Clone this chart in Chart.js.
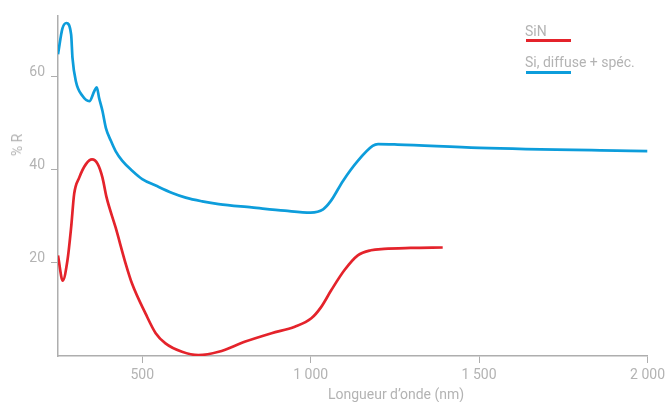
<!DOCTYPE html>
<html>
<head>
<meta charset="utf-8">
<script src="https://cdn.jsdelivr.net/npm/chart.js@4"></script>
<style>
  body { margin: 0; background: #fff; }
  #wrap { position: relative; width: 669px; height: 402px; font-family: Roboto, sans-serif; color: #b3b3b3; }
  .lbl { position: absolute; white-space: nowrap; font-size: 14px; line-height: 1; }
  .swatch { position: absolute; height: 3px; width: 45px; }
</style>
</head>
<body>
<div id="wrap">
  <canvas id="chart" width="669" height="402"></canvas>
  <div class="lbl" style="left:525px; top:24px;">SiN</div>
  <div class="swatch" style="left:526px; top:39px; background:#e4232b;"></div>
  <div class="lbl" style="left:525px; top:55px;">Si, diffuse + spéc.</div>
  <div class="swatch" style="left:526px; top:71px; background:#0d9ddb;"></div>
  <div class="lbl" style="left:396px; top:387px; transform:translateX(-50%);">Longueur d’onde (nm)</div>
  <div class="lbl" style="left:17px; top:145px; transform:translate(-50%,-50%) rotate(-90deg);">% R</div>
</div>
<script>
// Reflectance curves
const sinWavelength = [250, 264, 278, 289, 298, 313, 333, 351, 368, 382, 394, 421, 451, 470, 510, 540, 569, 618, 667, 727, 806, 884, 953, 1002, 1031, 1061, 1100, 1140, 1179, 1218, 1297, 1392];
const sinReflect = [21.6, 16.2, 20.5, 27.6, 34.8, 38.3, 41.2, 42.2, 41.2, 38.3, 34.1, 27.6, 19.8, 15.5, 9.1, 4.9, 2.7, 0.9, 0.2, 0.9, 3.1, 4.9, 6.3, 8.1, 10.5, 14.1, 18.4, 21.6, 22.7, 23.0, 23.2, 23.3];

const siWavelength = [250, 263, 275, 289, 293, 303, 323, 343, 358, 365, 372, 382, 392, 407, 421, 441, 470, 500, 540, 589, 629, 678, 727, 825, 923, 1000, 1037, 1060, 1096, 1140, 1184, 1200, 1258, 1500, 2000];
const siReflect = [64.8, 70.3, 71.5, 69.0, 64.0, 59.0, 55.8, 54.7, 56.9, 57.7, 55.4, 52.6, 49.0, 46.2, 44.0, 41.9, 39.8, 38.0, 36.6, 35.0, 34.0, 33.2, 32.6, 31.9, 31.2, 30.8, 31.5, 33.3, 37.6, 41.9, 45.1, 45.5, 45.4, 44.7, 44.0];

const xTicks = [500, 1000, 1500, 2000];
const yTicks = [20, 40, 60];

const grey = '#b3b3b3';
const axisGrey = '#aeaeae';

function toPoints(xs, ys) {
    return xs.map((x, i) => ({ x: x, y: ys[i] }));
}

function formatNumber(v) {
    return String(v).replace(/\B(?=(\d{3})+(?!\d))/g, ' ');
}

const ctx = document.getElementById('chart').getContext('2d');
new Chart(ctx, {
    type: 'line',
    data: {
        datasets: [{
            label: 'SiN',
            data: toPoints(sinWavelength, sinReflect),
            borderColor: '#e4232b',
            borderWidth: 2.7,
            pointRadius: 0,
            cubicInterpolationMode: 'monotone',
            fill: false
        }, {
            label: 'Si, diffuse + spéc.',
            data: toPoints(siWavelength, siReflect),
            borderColor: '#0d9ddb',
            borderWidth: 2.7,
            pointRadius: 0,
            cubicInterpolationMode: 'monotone',
            fill: false
        }]
    },
    options: {
        responsive: false,
        devicePixelRatio: 1,
        animation: false,
        layout: { padding: { left: 0, top: 16, right: 20, bottom: 0 } },
        plugins: { legend: { display: false }, tooltip: { enabled: false } },
        scales: {
            x: {
                type: 'linear',
                min: 250,
                max: 2000,
                afterBuildTicks: (scale) => { scale.ticks = xTicks.map(v => ({ value: v })); },
                afterFit: (scale) => { scale.height = 46; },
                border: { display: true, color: axisGrey, width: 1.5 },
                grid: { display: true, drawOnChartArea: false, drawTicks: true, tickLength: 7, color: axisGrey, lineWidth: 1 },
                ticks: {
                    color: grey,
                    font: { family: 'Roboto', size: 14 },
                    padding: 4,
                    maxRotation: 0,
                    callback: (v) => formatNumber(v)
                }
            },
            y: {
                min: 0,
                max: 73,
                afterBuildTicks: (scale) => { scale.ticks = yTicks.map(v => ({ value: v })); },
                afterFit: (scale) => { scale.width = 58; },
                border: { display: true, color: axisGrey, width: 1.5 },
                grid: { display: true, drawOnChartArea: false, drawTicks: true, tickLength: 7, color: axisGrey, lineWidth: 1 },
                ticks: {
                    color: grey,
                    font: { family: 'Roboto', size: 14 },
                    padding: 6,
                    labelOffset: -4
                }
            }
        }
    }
});
</script>
</body>
</html>
